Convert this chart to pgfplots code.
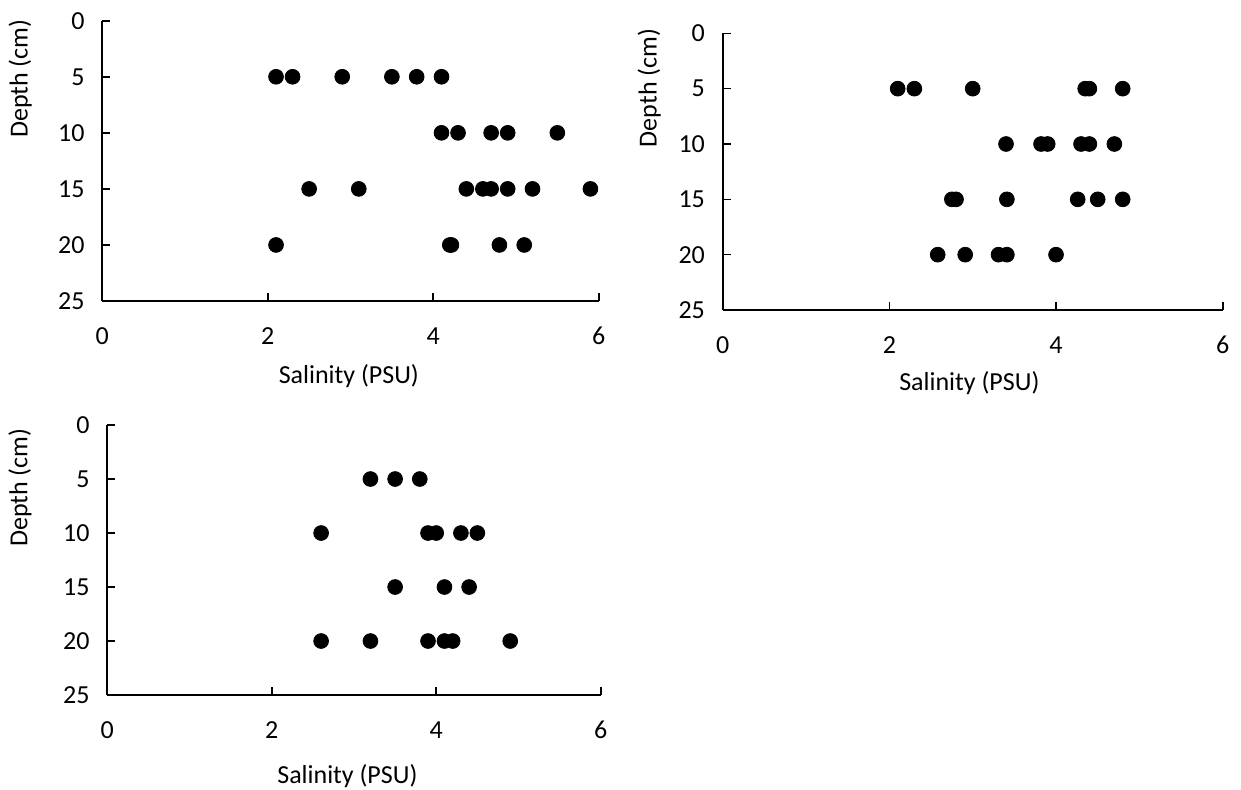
\documentclass[border=0pt]{standalone}
\usepackage{pgfplots}
\pgfplotsset{compat=1.18}
\usepackage{fontspec}
\setmainfont{Carlito}
\pgfplotsset{
  salin/.style={
    scale only axis,
    anchor=south west,
    xmin=0, xmax=6, ymin=0, ymax=25,
    y dir=reverse,
    axis x line=bottom, axis y line=left,
    axis line style={-, line width=1pt, black},
    xtick={0,2,4,6}, ytick={0,5,10,15,20,25},
    tick align=inside,
    major tick length=4pt,
    tick style={line width=0.8pt, black},
    /pgf/number format/assume math mode=true,
    tick label style={font=\fontsize{13}{15}\selectfont},
    xticklabel style={anchor=center, inner sep=0pt, yshift=-17.5pt},
    yticklabel style={anchor=east, inner sep=0pt, xshift=-8.7pt},
    clip=false,
  },
  dots/.style={only marks, mark=*, mark size=3.7pt, mark options={fill=black, draw=black}},
}
\begin{document}
\begin{tikzpicture}
\path[use as bounding box] (0,0) rectangle (620.5pt,-394.5pt);
% Panel 1
\begin{axis}[salin, at={(51.15pt,-150.5pt)}, width=248.2pt, height=140.15pt]
\addplot[dots] coordinates {
(2.1,5) (2.3,5) (2.9,5) (3.5,5) (3.8,5) (4.1,5)
(4.1,10) (4.3,10) (4.7,10) (4.9,10) (5.5,10)
(2.5,15) (3.1,15) (4.4,15) (4.6,15) (4.7,15) (4.9,15) (5.2,15) (5.9,15)
(2.1,20) (4.2,20) (4.22,20) (4.8,20) (5.1,20)
};
\node[font=\fontsize{13}{15}\selectfont] at ([yshift=-37.5pt]axis cs:2.98,25) {Salinity (PSU)};
\node[font=\fontsize{13}{15}\selectfont, rotate=90] at ([xshift=-41pt]axis cs:0,5.16) {Depth (cm)};
\end{axis}
% Panel 2
\begin{axis}[salin, at={(361.35pt,-155pt)}, width=250pt, height=138.35pt]
\addplot[dots] coordinates {
(2.1,5) (2.3,5) (3.0,5) (4.35,5) (4.4,5) (4.8,5)
(3.4,10) (3.82,10) (3.9,10) (4.3,10) (4.4,10) (4.7,10)
(2.75,15) (2.8,15) (3.41,15) (4.26,15) (4.5,15) (4.8,15)
(2.58,20) (2.91,20) (3.31,20) (3.41,20) (4.0,20)
};
\node[font=\fontsize{13}{15}\selectfont] at ([yshift=-36.5pt]axis cs:2.96,25) {Salinity (PSU)};
\node[font=\fontsize{13}{15}\selectfont, rotate=90] at ([xshift=-36.7pt]axis cs:0,4.94) {Depth (cm)};
\end{axis}
% Panel 3
\begin{axis}[salin, at={(53.65pt,-347.5pt)}, width=246.7pt, height=135pt]
\addplot[dots] coordinates {
(3.2,5) (3.5,5) (3.8,5)
(2.6,10) (3.9,10) (4.0,10) (4.3,10) (4.5,10)
(3.5,15) (4.1,15) (4.4,15)
(2.6,20) (3.2,20) (3.9,20) (4.1,20) (4.2,20) (4.9,20)
};
\node[font=\fontsize{13}{15}\selectfont] at ([yshift=-40.5pt]axis cs:2.92,25) {Salinity (PSU)};
\node[font=\fontsize{13}{15}\selectfont, rotate=90] at ([xshift=-43.7pt]axis cs:0,5.8) {Depth (cm)};
\end{axis}
\end{tikzpicture}
\end{document}
